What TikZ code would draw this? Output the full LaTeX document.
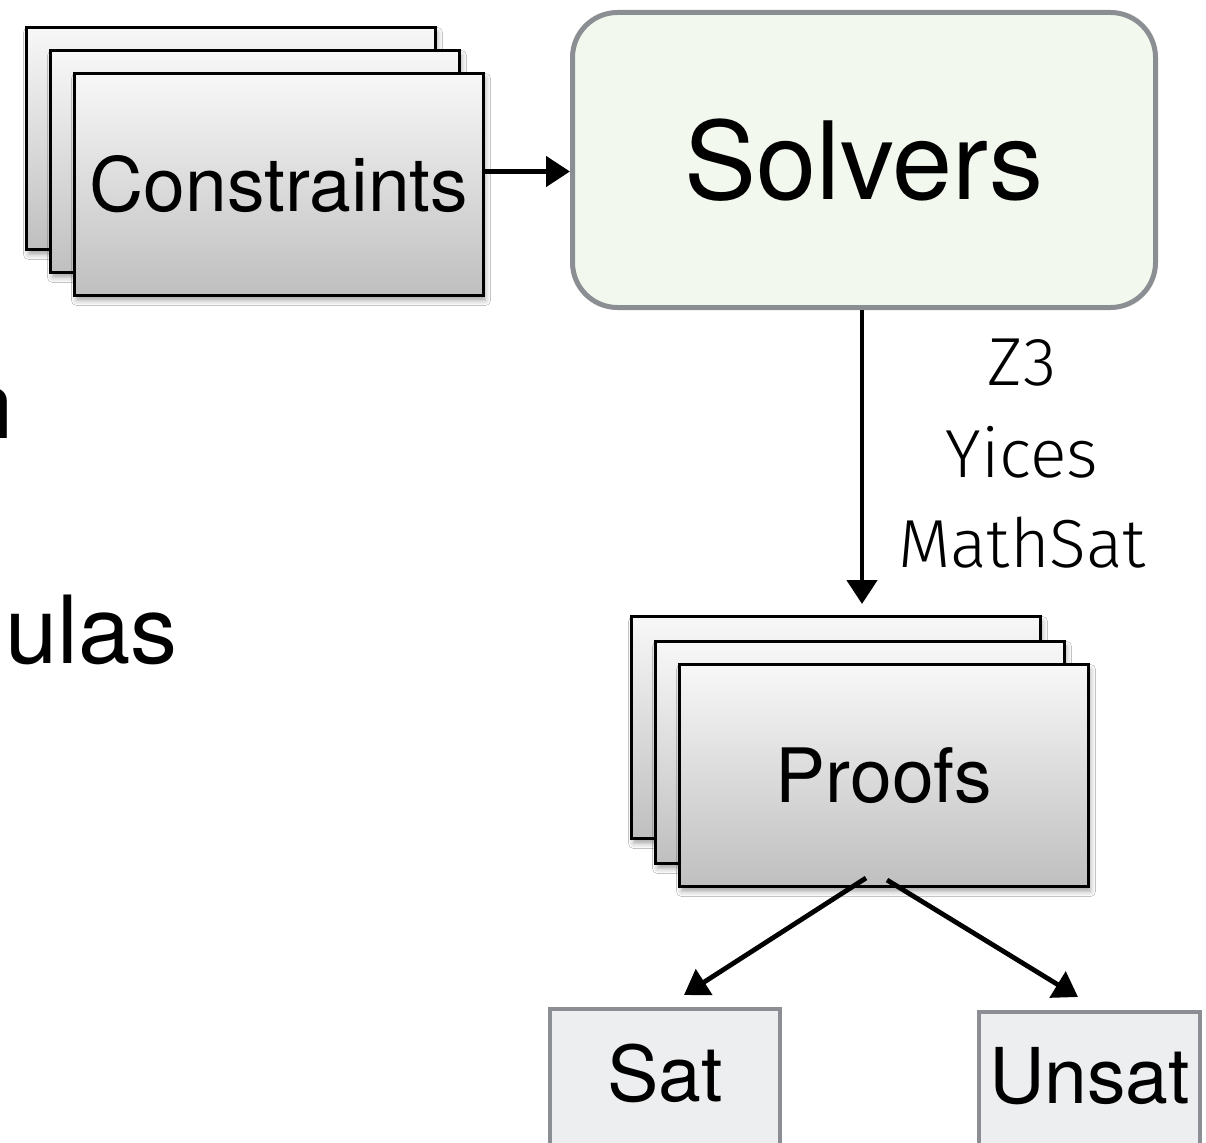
\documentclass[tikz,border=0pt]{standalone}
\usepackage{fontspec}
\setmainfont{TeX Gyre Heros}
\newfontfamily\lightfont{Fira Sans Light}
\usetikzlibrary{arrows.meta,shadows.blur}
\definecolor{solvfill}{HTML}{F3F8EE}
\definecolor{solvline}{HTML}{8B8E92}
\definecolor{resfill}{HTML}{EDEEF0}
\begin{document}
\begin{tikzpicture}[x=1pt,y=-1pt,
  stackbox/.style={draw=black, line width=3pt, top color=black!3, bottom color=black!25,
    blur shadow={shadow xshift=2pt, shadow yshift=-5pt, shadow blur radius=5pt, shadow opacity=35},
    minimum width=409pt, minimum height=222pt, inner sep=0pt, anchor=north west},
  boxtext/.style={font=\fontsize{75}{90}\selectfont},
  solverbox/.style={draw=solvline, line width=5pt, fill=solvfill, rounded corners=45pt,
    minimum width=583pt, minimum height=295pt, inner sep=0pt, anchor=north west,
    font=\fontsize{108}{120}\selectfont},
  resbox/.style={draw=solvline, line width=4pt, fill=resfill, inner sep=0pt, anchor=north west,
    minimum height=145pt, font=\fontsize{77}{90}\selectfont},
  lbl/.style={font=\lightfont\fontsize{68}{80}\selectfont, anchor=base, inner sep=0pt},
  flow/.style={line width=4.8pt, -{Triangle[length=24pt,width=30pt]}},
  slide/.style={font=\fontsize{94}{110}\selectfont, inner sep=0pt}
]
\fill[white] (0,0) rectangle (1206,1142);
\useasboundingbox (0,0) rectangle (1206,1142);

% clipped slide text on the left
\node[slide, anchor=base east] (tn) at (14,438) {n};
\node[slide, anchor=base west] (tu) at (5,663) {ulas};

% Constraints stack
\node[stackbox] (c1) at (25,26) {};
\node[stackbox] (c2) at (49,49) {};
\node[stackbox, boxtext] (c3) at (73,72) {Constraints};

% Solvers
\node[solverbox] (sv) at (570,10) {Solvers};

\draw[flow] ([yshift=13pt]c3.east) -- ([yshift=13pt]c3.east -| sv.west);

% Proofs stack
\node[stackbox] (p1) at (630,615) {};
\node[stackbox] (p2) at (654,640) {};
\node[stackbox, boxtext] (p3) at (678,663) {Proofs};

\coordinate (ptop) at (862,604);
\draw[flow] (sv.south -| ptop) -- (ptop);

\node[lbl] (z3) at (1022,385) {Z3};
\node[lbl] (yi) at (1022,477) {Yices};
\node[lbl] (ms) at (1022,567) {MathSat};

% results
\node[resbox, minimum width=230pt] (sat) at (548,1007) {\raisebox{18pt}{Sat}};
\node[resbox, minimum width=221pt] (uns) at (977,1010) {\raisebox{18pt}{Unsat}};

\coordinate (tipl) at (684,995);
\coordinate (tipr) at (1078,997);
\draw[flow] ([xshift=-18pt,yshift=10pt]p3.south) -- (tipl);
\draw[flow] ([xshift=3pt,yshift=8pt]p3.south) -- (tipr);
\end{tikzpicture}
\end{document}
